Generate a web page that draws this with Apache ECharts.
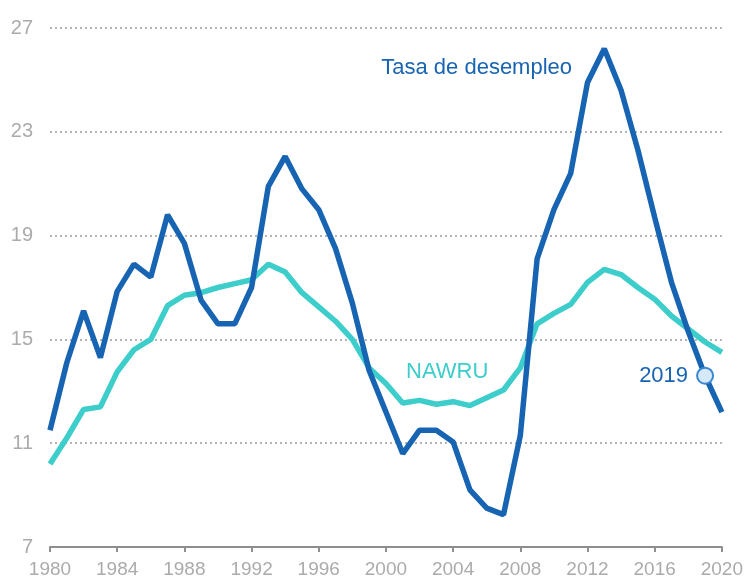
<!DOCTYPE html>
<html><head><meta charset="utf-8">
<script src="https://cdn.jsdelivr.net/npm/echarts@6/dist/echarts.min.js"></script>
<style>html,body{margin:0;padding:0;background:#fff}#c{width:746px;height:579px}</style>
</head><body><div id="c"></div>
<script>
const years = [1980,1981,1982,1983,1984,1985,1986,1987,1988,1989,1990,1991,1992,1993,1994,1995,1996,1997,1998,1999,2000,2001,2002,2003,2004,2005,2006,2007,2008,2009,2010,2011,2012,2013,2014,2015,2016,2017,2018,2019,2020];
const unemployment = [11.5,14.1,16.1,14.3,16.85,17.9,17.4,19.8,18.7,16.5,15.6,15.6,17.0,20.9,22.05,20.8,20.0,18.5,16.4,13.8,12.2,10.6,11.5,11.5,11.05,9.2,8.5,8.25,11.3,18.1,20.0,21.4,24.9,26.2,24.6,22.3,19.7,17.2,15.3,13.6,12.2];
const nawru = [10.2,11.2,12.3,12.4,13.75,14.6,15.0,16.3,16.7,16.8,17.0,17.15,17.3,17.9,17.6,16.8,16.25,15.7,15.0,13.9,13.3,12.55,12.65,12.5,12.6,12.45,12.75,13.05,13.9,15.6,16.0,16.35,17.2,17.7,17.5,17.0,16.55,15.9,15.4,14.9,14.5];
const yTicks = [7,11,15,19,23,27];
const xTicks = [1980,1984,1988,1992,1996,2000,2004,2008,2012,2016,2020];

const blue = '#1764b3', teal = '#3dcdca', gray = '#ababab';
const chart = echarts.init(document.getElementById('c'));
chart.setOption({
  animation: false,
  grid: {left: 50, right: 23, top: 28, bottom: 32},
  xAxis: {
    type: 'value', min: xTicks[0], max: xTicks[xTicks.length-1], interval: 4,
    axisLine: {lineStyle: {color: '#8f8f8f', width: 2}},
    axisTick: {show: true, length: 5, lineStyle: {color: '#8f8f8f', width: 2}},
    axisLabel: {color: gray, fontSize: 19, fontFamily: 'Liberation Sans', margin: 13, formatter: v => String(v)},
    splitLine: {show: false}
  },
  yAxis: {
    type: 'value', min: yTicks[0], max: yTicks[yTicks.length-1], interval: 4,
    axisLine: {show: false}, axisTick: {show: false},
    axisLabel: {color: gray, fontSize: 20, fontFamily: 'Liberation Sans', margin: 17},
    splitLine: {lineStyle: {color: '#9a9a9a', type: [2, 3], width: 1.5}}
  },
  series: [
    {
      type: 'line', name: 'NAWRU', data: years.map((y, i) => [y, nawru[i]]),
      symbol: 'none', lineStyle: {color: teal, width: 5.5}, z: 2,
      markPoint: {symbol: 'circle', symbolSize: 0, silent: true,
        data: [{coord: [2003.65, 13.76], label: {show: true, formatter: 'NAWRU', color: teal, fontSize: 22, fontFamily: 'Liberation Sans', position: 'inside'}}]}
    },
    {
      type: 'line', name: 'Tasa de desempleo', data: years.map((y, i) => [y, unemployment[i]]),
      symbol: 'none', lineStyle: {color: blue, width: 5.5}, z: 3,
      markPoint: {silent: true,
        data: [
          {coord: [2005.4, 25.45], symbol: 'circle', symbolSize: 0, label: {show: true, formatter: 'Tasa de desempleo', color: blue, fontSize: 22, fontFamily: 'Liberation Sans', position: 'inside'}},
          {coord: [2019, unemployment[years.indexOf(2019)]], symbol: 'circle', symbolSize: 16,
            itemStyle: {color: '#d5e9f8', borderColor: '#3a88d3', borderWidth: 2},
            label: {show: true, formatter: '2019', color: blue, fontSize: 22, fontFamily: 'Liberation Sans', position: 'left', distance: 8}}
        ]}
    }
  ]
});
</script></body></html>
